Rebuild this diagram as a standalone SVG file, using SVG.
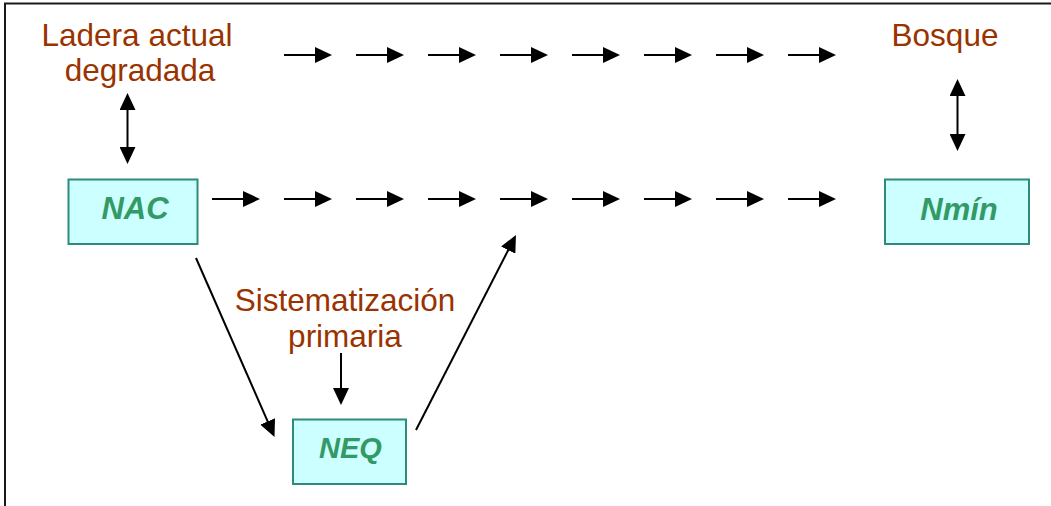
<svg xmlns="http://www.w3.org/2000/svg" width="1051" height="506" viewBox="0 0 1051 506">
<defs>
<marker id="ah" markerUnits="userSpaceOnUse" markerWidth="17" markerHeight="16" refX="7" refY="8" orient="auto-start-reverse" viewBox="0 0 17 16">
<path d="M0,0 L17,8 L0,16 z" fill="#000"/>
</marker>
<style>
.lbl{font-family:"Liberation Sans",Arial,sans-serif;font-size:31.5px;fill:#993300;text-anchor:middle}
.box{fill:#CCFFFF;stroke:#2E8B7A;stroke-width:2}
.nt{font-family:"Liberation Sans",Arial,sans-serif;font-size:31px;font-weight:bold;font-style:italic;fill:#339966;text-anchor:middle}
.c line{stroke:#000;stroke-width:2;marker-end:url(#ah)}
.c line.dbl{marker-start:url(#ah)}
</style>
</defs>
<rect width="1051" height="506" fill="#fff"/>
<path d="M5,506 V3.5 H1051" fill="none" stroke="#1a1a1a" stroke-width="2"/>
<g id="ladera"><text class="lbl" x="137" y="46">Ladera actual</text><text class="lbl" x="140" y="81">degradada</text></g>
<g id="bosque"><text class="lbl" x="945" y="46">Bosque</text></g>
<g id="sistematizacion"><text class="lbl" x="345" y="311">Sistematización</text><text class="lbl" x="345" y="347">primaria</text></g>
<g id="NAC"><rect class="box" x="68.5" y="179.5" width="129" height="64.5"/><text class="nt" x="135" y="219">NAC</text></g>
<g id="Nmin"><rect class="box" x="885" y="179.5" width="144" height="64.5"/><text class="nt" x="959" y="220">Nmín</text></g>
<g id="NEQ"><rect class="box" x="293" y="419.5" width="113" height="64.5"/><text class="nt" x="350.5" y="458" style="font-size:29px">NEQ</text></g>
<g id="connectors" class="c">
<line x1="284" y1="55" x2="322" y2="55"/>
<line x1="356" y1="55" x2="394" y2="55"/>
<line x1="428" y1="55" x2="466" y2="55"/>
<line x1="500" y1="55" x2="538" y2="55"/>
<line x1="572" y1="55" x2="610" y2="55"/>
<line x1="644" y1="55" x2="682" y2="55"/>
<line x1="716" y1="55" x2="754" y2="55"/>
<line x1="788" y1="55" x2="826" y2="55"/>
<line x1="212" y1="199" x2="250" y2="199"/>
<line x1="284" y1="199" x2="322" y2="199"/>
<line x1="356" y1="199" x2="394" y2="199"/>
<line x1="428" y1="199" x2="466" y2="199"/>
<line x1="500" y1="199" x2="538" y2="199"/>
<line x1="572" y1="199" x2="610" y2="199"/>
<line x1="644" y1="199" x2="682" y2="199"/>
<line x1="716" y1="199" x2="754" y2="199"/>
<line x1="788" y1="199" x2="826" y2="199"/>
<line class="dbl" x1="127.5" y1="103" x2="127.5" y2="154"/>
<line class="dbl" x1="957.5" y1="89" x2="957.5" y2="141"/>
<line x1="341" y1="353" x2="341" y2="395"/>
<line x1="196" y1="258" x2="270.5" y2="427.8"/>
<line x1="416" y1="430" x2="511.4" y2="243.9"/>
</g>
</svg>
